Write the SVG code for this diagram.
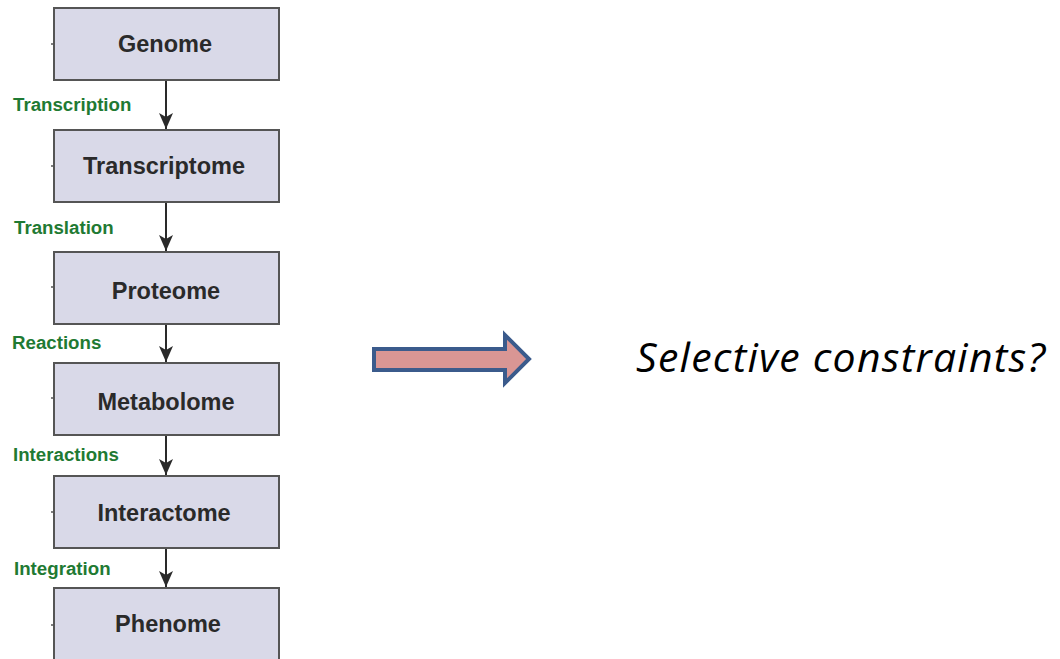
<svg xmlns="http://www.w3.org/2000/svg" width="1060" height="659" viewBox="0 0 1060 659">
  <style>
    .box { fill: #d9d9e8; stroke: #555555; stroke-width: 2; }
    .tick { stroke: #555555; stroke-width: 1.5; }
    .name { font-family: "Liberation Sans", Arial, sans-serif; font-weight: bold; font-size: 23.5px; fill: #2a2a2a; text-anchor: middle; }
    .step { font-family: "Liberation Sans", Arial, sans-serif; font-weight: bold; font-size: 18.7px; fill: #1f7a33; }
    .link { stroke: #2a2a2a; stroke-width: 2; fill: none; marker-end: url(#head); }
    .q { font-family: "Open Sans", "Liberation Sans", sans-serif; font-style: italic; font-size: 41px; fill: #000000; }
  </style>
  <defs>
    <marker id="head" viewBox="0 0 16 14" refX="16" refY="7" markerWidth="16" markerHeight="14" markerUnits="userSpaceOnUse" orient="auto">
      <path d="M0,0 L16,7 L0,14 L4,7 Z" fill="#2a2a2a"/>
    </marker>
  </defs>
  <rect width="1060" height="659" fill="#ffffff"/>

  <g id="connectors">
    <line class="link" x1="166" y1="81" x2="166" y2="129"/>
    <line class="link" x1="166" y1="203" x2="166" y2="251"/>
    <line class="link" x1="166" y1="325" x2="166" y2="362"/>
    <line class="link" x1="166" y1="436" x2="166" y2="475"/>
    <line class="link" x1="166" y1="549" x2="166" y2="587"/>
    <text class="step" x="13" y="111">Transcription</text>
    <text class="step" x="14" y="234">Translation</text>
    <text class="step" x="12" y="349">Reactions</text>
    <text class="step" x="13" y="461">Interactions</text>
    <text class="step" x="14" y="575">Integration</text>
  </g>

  <g id="genome">
    <rect class="box" x="54" y="8" width="225" height="72"/>
    <line class="tick" x1="51" y1="44" x2="54" y2="44"/>
    <text class="name" x="165" y="52">Genome</text>
  </g>
  <g id="transcriptome">
    <rect class="box" x="54" y="130" width="225" height="72"/>
    <line class="tick" x1="51" y1="166" x2="54" y2="166"/>
    <text class="name" x="164" y="174">Transcriptome</text>
  </g>
  <g id="proteome">
    <rect class="box" x="54" y="252" width="225" height="72"/>
    <line class="tick" x1="51" y1="287" x2="54" y2="287"/>
    <text class="name" x="166" y="299">Proteome</text>
  </g>
  <g id="metabolome">
    <rect class="box" x="54" y="363" width="225" height="72"/>
    <line class="tick" x1="51" y1="398" x2="54" y2="398"/>
    <text class="name" x="166" y="410">Metabolome</text>
  </g>
  <g id="interactome">
    <rect class="box" x="54" y="476" width="225" height="72"/>
    <line class="tick" x1="51" y1="512" x2="54" y2="512"/>
    <text class="name" x="164" y="521">Interactome</text>
  </g>
  <g id="phenome">
    <rect class="box" x="54" y="588" width="225" height="80"/>
    <line class="tick" x1="51" y1="625" x2="54" y2="625"/>
    <text class="name" x="168" y="632">Phenome</text>
  </g>

  <g id="block-arrow">
    <path d="M374,349 L505,349 L505,335 L529,359 L505,383 L505,370 L374,370 Z" fill="#d99694" stroke="#3b5b8c" stroke-width="4" stroke-linejoin="miter"/>
  </g>

  <g id="question">
    <text class="q" x="636" y="372" textLength="409" lengthAdjust="spacing">Selective constraints?</text>
  </g>
</svg>
